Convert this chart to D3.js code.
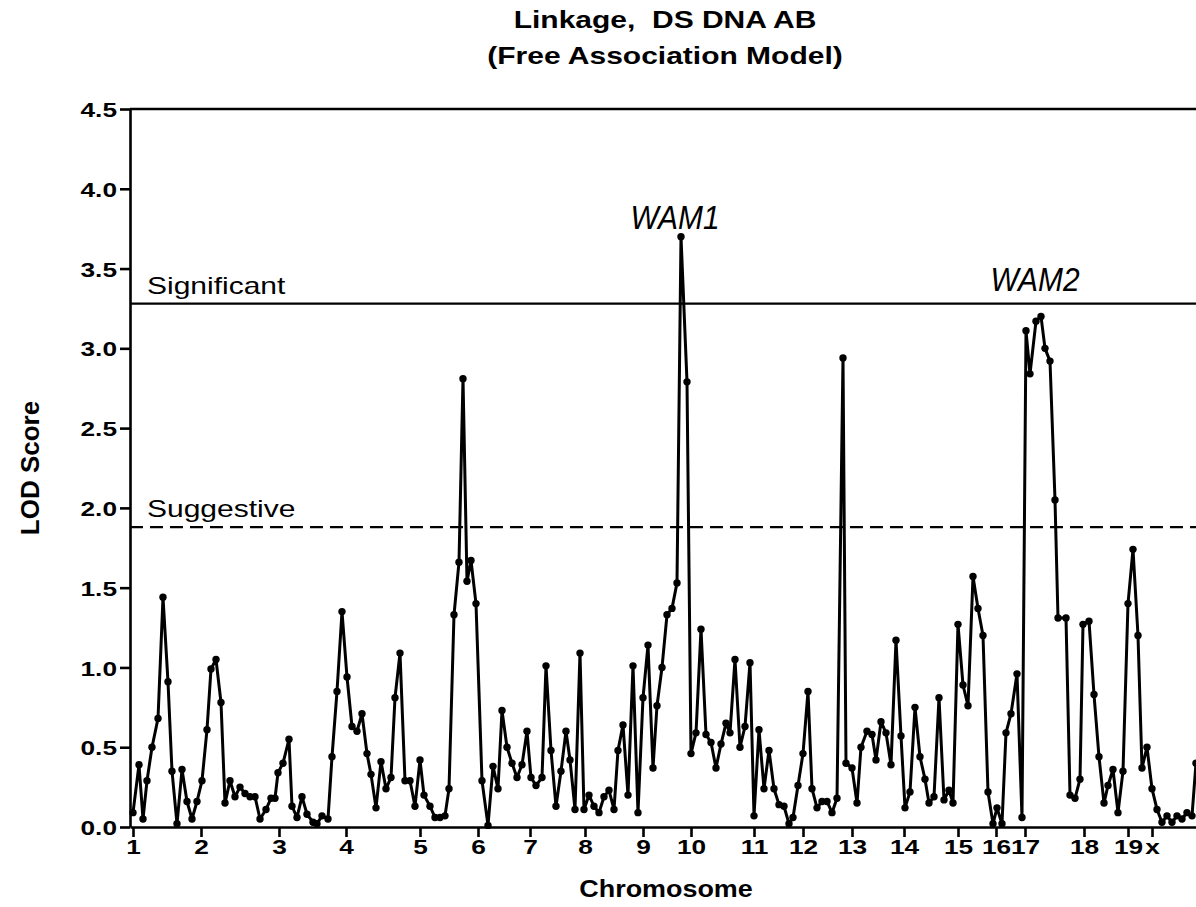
<!DOCTYPE html>
<html>
<head>
<meta charset="utf-8">
<script src="https://cdn.jsdelivr.net/npm/d3@7"></script>
<style>
  body { margin: 0; background: #fff; }
  svg { display: block; font-family: "Liberation Sans", Arial, sans-serif; }
  .axis path, .axis line { stroke: #000; stroke-width: 2.6; }
  .axis text { font-size: 21px; font-weight: bold; fill: #000; }
</style>
</head>
<body>
<div id="chart-area"><svg></svg></div>
<script>
// chromosome boundaries (cM, cumulative) and labels
const chromStarts = [6, 142, 298, 432, 580, 696, 800, 910, 1026, 1122, 1248, 1346, 1444, 1548, 1656, 1732, 1790, 1908, 1996, 2044];
const chromLabels = ["1", "2", "3", "4", "5", "6", "7", "8", "9", "10", "11", "12", "13", "14", "15", "16", "17", "18", "19", "x"];

// marker positions (cumulative cM)
const positions = [
  6, 18, 26, 34, 44, 56, 66, 76, 84, 94,
  104, 114, 124, 134, 144, 154, 162, 172, 182, 190,
  200, 210, 220, 230, 240, 250, 260, 272, 282, 290,
  296, 306, 318, 324, 334, 344, 354, 366, 374, 384,
  396, 404, 414, 424, 434, 444, 454, 464, 474, 482,
  492, 502, 512, 522, 530, 540, 550, 560, 570, 580,
  588, 600, 610, 620, 630, 638, 648, 658, 666, 674,
  682, 692, 704, 716, 726, 736, 744, 754, 764, 774,
  784, 794, 802, 812, 824, 832, 842, 852, 862, 872,
  880, 890, 900, 908, 918, 928, 938, 948, 958, 968,
  976, 986, 996, 1006, 1016, 1026, 1036, 1046, 1054, 1064,
  1074, 1084, 1094, 1102, 1114, 1122, 1132, 1142, 1152, 1162,
  1172, 1182, 1192, 1200, 1210, 1220, 1230, 1240, 1248, 1258,
  1268, 1278, 1288, 1298, 1308, 1318, 1326, 1336, 1346, 1356,
  1364, 1374, 1384, 1394, 1404, 1414, 1426, 1432, 1444, 1454,
  1462, 1474, 1484, 1492, 1502, 1512, 1522, 1532, 1542, 1550,
  1560, 1570, 1580, 1590, 1598, 1608, 1618, 1628, 1638, 1646,
  1656, 1666, 1676, 1686, 1696, 1706, 1716, 1726, 1734, 1744,
  1752, 1762, 1774, 1784, 1792, 1800, 1812, 1822, 1830, 1840,
  1850, 1856, 1872, 1880, 1890, 1900, 1906, 1918, 1928, 1938,
  1948, 1956, 1966, 1976, 1986, 1996, 2006, 2016, 2024, 2034,
  2044, 2054, 2064, 2074, 2084, 2094, 2104, 2114, 2124, 2132
];

// LOD scores
const lodScores = [
  0.09, 0.39, 0.05, 0.29, 0.50, 0.68, 1.44, 0.91, 0.35, 0.02,
  0.36, 0.16, 0.05, 0.16, 0.29, 0.61, 0.99, 1.05, 0.78, 0.15,
  0.29, 0.19, 0.25, 0.21, 0.19, 0.19, 0.05, 0.11, 0.18, 0.18,
  0.34, 0.40, 0.55, 0.13, 0.06, 0.19, 0.08, 0.03, 0.02, 0.07,
  0.05, 0.44, 0.85, 1.35, 0.94, 0.63, 0.60, 0.71, 0.46, 0.33,
  0.12, 0.41, 0.24, 0.31, 0.81, 1.09, 0.29, 0.29, 0.13, 0.42,
  0.20, 0.13, 0.06, 0.06, 0.07, 0.24, 1.33, 1.66, 2.81, 1.54,
  1.67, 1.40, 0.29, 0.01, 0.38, 0.24, 0.73, 0.50, 0.40, 0.31,
  0.39, 0.60, 0.31, 0.26, 0.31, 1.01, 0.48, 0.13, 0.35, 0.60,
  0.42, 0.11, 1.09, 0.11, 0.20, 0.13, 0.09, 0.19, 0.23, 0.11,
  0.48, 0.64, 0.20, 1.01, 0.09, 0.81, 1.14, 0.37, 0.76, 1.00,
  1.33, 1.37, 1.53, 3.70, 2.79, 0.46, 0.59, 1.24, 0.58, 0.53,
  0.37, 0.52, 0.65, 0.59, 1.05, 0.50, 0.63, 1.03, 0.07, 0.61,
  0.24, 0.48, 0.24, 0.14, 0.13, 0.02, 0.06, 0.26, 0.46, 0.85,
  0.24, 0.12, 0.16, 0.16, 0.09, 0.18, 2.94, 0.40, 0.37, 0.15,
  0.50, 0.60, 0.58, 0.42, 0.66, 0.59, 0.39, 1.17, 0.57, 0.12,
  0.22, 0.75, 0.44, 0.30, 0.15, 0.19, 0.81, 0.17, 0.23, 0.15,
  1.27, 0.89, 0.76, 1.57, 1.37, 1.20, 0.22, 0.02, 0.12, 0.02,
  0.59, 0.71, 0.96, 0.06, 3.11, 2.84, 3.17, 3.20, 3.00, 2.92,
  2.05, 1.31, 1.31, 0.20, 0.18, 0.30, 1.27, 1.29, 0.83, 0.44,
  0.15, 0.26, 0.36, 0.09, 0.35, 1.40, 1.74, 1.20, 0.37, 0.50,
  0.24, 0.11, 0.03, 0.07, 0.03, 0.07, 0.05, 0.09, 0.07, 0.40
];

const yTicks = [0, 0.5, 1, 1.5, 2, 2.5, 3, 3.5, 4, 4.5];
const thresholds = [
  { name: "Significant", value: 3.28, dashed: false },
  { name: "Suggestive", value: 1.88, dashed: true }
];
const peaks = [
  { name: "WAM1", pos: 1090, value: 3.75 },
  { name: "WAM2", pos: 1810, value: 3.36 }
];

const chartSize = { width: 1196, height: 907 };
const margin = { left: 130, right: 0, top: 109, bottom: 80 };
const width = chartSize.width - margin.left - margin.right;
const height = chartSize.height - margin.top - margin.bottom;
const stretch = 1.25;

const svg = d3.select('#chart-area svg')
  .attr("width", chartSize.width)
  .attr("height", chartSize.height);

const g = svg.append("g")
  .attr("transform", `translate(${margin.left},${margin.top})`);

const x = d3.scaleLinear().domain([0, 2132]).range([0, width]);
const y = d3.scaleLinear().domain([0, 4.5]).range([height, 0]);

// axes
const yAxis = d3.axisLeft(y).tickValues(yTicks).tickFormat(d3.format(".1f"))
  .tickSize(10).tickSizeOuter(0).tickPadding(3);
const xAxis = d3.axisBottom(x).tickValues(chromStarts)
  .tickFormat((d, i) => chromLabels[i]).tickSize(10).tickSizeOuter(0).tickPadding(2);

g.append("g").attr("class", "axis y-axis").call(yAxis);
g.append("g").attr("class", "axis x-axis")
  .attr("transform", `translate(0,${height})`).call(xAxis);

g.selectAll(".y-axis text")
  .attr("transform", `scale(${stretch},1)`)
  .attr("x", -13 / stretch)
  .attr("dy", "0.36em");
g.selectAll(".x-axis text")
  .attr("transform", `scale(${stretch},1)`);

// top frame line
g.append("line")
  .attr("x1", 0).attr("x2", width)
  .attr("y1", y(4.5)).attr("y2", y(4.5))
  .attr("stroke", "#000").attr("stroke-width", 2.5);

// thresholds
thresholds.forEach(t => {
  g.append("line")
    .attr("x1", 0).attr("x2", width)
    .attr("y1", y(t.value)).attr("y2", y(t.value))
    .attr("stroke", "#000").attr("stroke-width", 2.3)
    .attr("stroke-dasharray", t.dashed ? "13,7" : null);
  g.append("text")
    .attr("transform", `translate(17,${y(t.value) - 10}) scale(1.25,1)`)
    .attr("font-size", 24)
    .text(t.name);
});

// LOD curve
const pts = positions.map((p, i) => ({ pos: p, lod: lodScores[i] }));
const lodLine = d3.line().x(d => x(d.pos)).y(d => y(d.lod));

g.append("path")
  .attr("d", lodLine(pts))
  .attr("fill", "none")
  .attr("stroke", "#000")
  .attr("stroke-width", 3)
  .attr("stroke-linejoin", "round");

g.selectAll("circle.pt")
  .data(pts)
  .join("circle")
  .attr("class", "pt")
  .attr("cx", d => x(d.pos))
  .attr("cy", d => y(d.lod))
  .attr("r", 3.7)
  .attr("fill", "#000");

// peak labels
g.selectAll("text.peak")
  .data(peaks)
  .join("text")
  .attr("class", "peak")
  .attr("transform", d => `translate(${x(d.pos)},${y(d.value)}) scale(0.88,1)`)
  .attr("text-anchor", "middle")
  .attr("font-size", 34)
  .attr("font-style", "italic")
  .text(d => d.name);

// titles
svg.append("text")
  .attr("transform", `translate(665,28) scale(${stretch},1)`)
  .attr("text-anchor", "middle")
  .attr("font-size", 24).attr("font-weight", "bold")
  .text("Linkage,\u00a0\u00a0DS DNA AB");
svg.append("text")
  .attr("transform", `translate(665,64) scale(${stretch},1)`)
  .attr("text-anchor", "middle")
  .attr("font-size", 24).attr("font-weight", "bold")
  .text("(Free Association Model)");

svg.append("text")
  .attr("transform", `translate(666,897) scale(1.17,1)`)
  .attr("text-anchor", "middle")
  .attr("font-size", 23).attr("font-weight", "bold")
  .text("Chromosome");

svg.append("text")
  .attr("transform", `translate(39,${margin.top + height / 2}) rotate(-90)`)
  .attr("text-anchor", "middle")
  .attr("font-size", 26).attr("font-weight", "bold")
  .text("LOD Score");
</script>
</body>
</html>
